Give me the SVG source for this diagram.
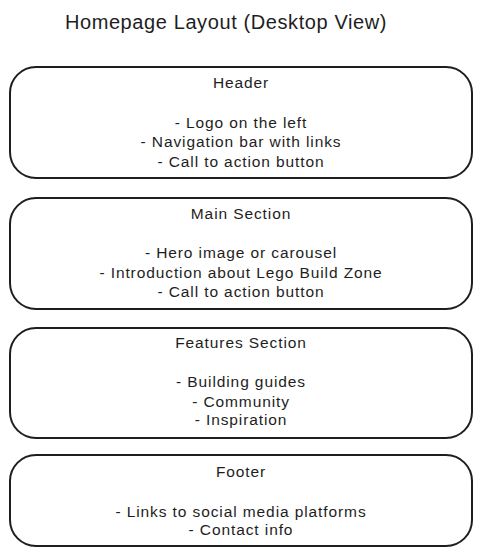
<svg xmlns="http://www.w3.org/2000/svg" width="480" height="555" viewBox="0 0 480 555">
<style>
.box{fill:#ffffff;stroke:#1e1e1e;stroke-width:2;}
.t{font-family:"Liberation Sans","DejaVu Sans",sans-serif;font-size:15.5px;letter-spacing:0.9px;fill:#1e1e1e;text-anchor:middle;}
.title{font-family:"Liberation Sans","DejaVu Sans",sans-serif;font-size:20px;letter-spacing:0.6px;fill:#1e1e1e;text-anchor:middle;}
</style>
<rect width="480" height="555" fill="#ffffff"/>
<text class="title" x="226" y="29">Homepage Layout (Desktop View)</text>
<g id="header">
<rect class="box" x="10" y="67" width="462" height="111" rx="26"/>
<text class="t" x="241" y="88">Header</text>
<text class="t" x="241" y="128">- Logo on the left</text>
<text class="t" x="241" y="147">- Navigation bar with links</text>
<text class="t" x="241" y="167">- Call to action button</text>
</g>
<g id="main">
<rect class="box" x="10" y="198" width="462" height="111" rx="26"/>
<text class="t" x="241" y="219">Main Section</text>
<text class="t" x="241" y="258">- Hero image or carousel</text>
<text class="t" x="241" y="278">- Introduction about Lego Build Zone</text>
<text class="t" x="241" y="297">- Call to action button</text>
</g>
<g id="features">
<rect class="box" x="10" y="328" width="462" height="110" rx="26"/>
<text class="t" x="241" y="348">Features Section</text>
<text class="t" x="241" y="387">- Building guides</text>
<text class="t" x="241" y="407">- Community</text>
<text class="t" x="241" y="425">- Inspiration</text>
</g>
<g id="footer">
<rect class="box" x="10" y="455" width="462" height="91" rx="26"/>
<text class="t" x="241" y="477">Footer</text>
<text class="t" x="241" y="517">- Links to social media platforms</text>
<text class="t" x="241" y="535">- Contact info</text>
</g>
<g id="connectors"></g>
</svg>
